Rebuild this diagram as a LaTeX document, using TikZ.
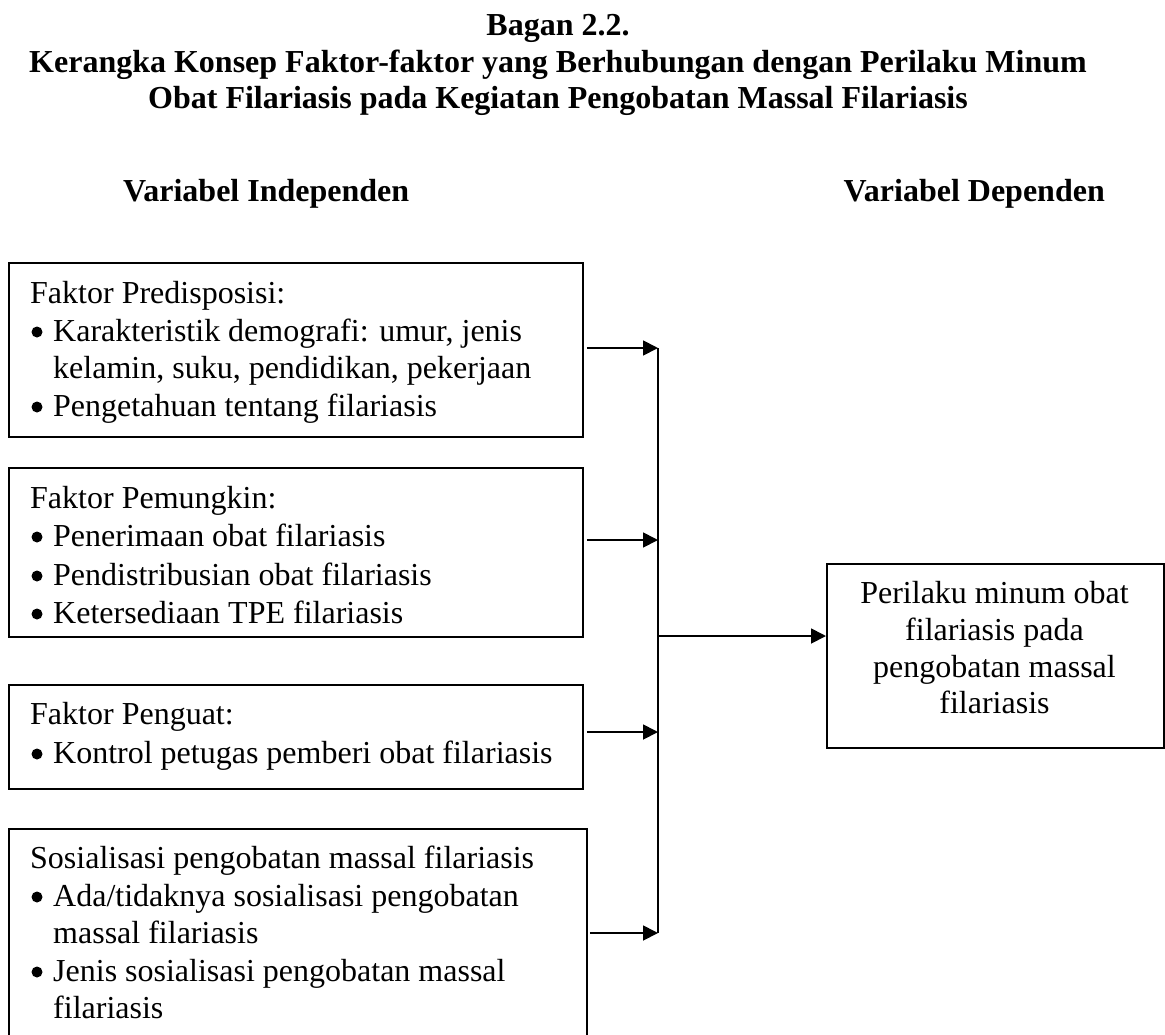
\documentclass[tikz,border=0pt]{standalone}
\usepackage{fontspec}
\setmainfont{Liberation Serif}
\usetikzlibrary{arrows.meta,calc}
\newcommand{\bul}{\hspace*{21pt}}
\begin{document}
\begin{tikzpicture}[x=1pt,y=-1pt,
  box/.style={draw,line width=1.8pt,inner sep=0pt,anchor=north west,rectangle},
  txt/.style={inner sep=0pt,anchor=base west,font=\fontsize{32}{37}\selectfont},
  ctxt/.style={inner sep=0pt,anchor=base,font=\fontsize{32}{37}\selectfont},
  ttl/.style={inner sep=0pt,anchor=base,font=\fontsize{32}{37}\selectfont\bfseries},
  arr/.style={line width=1.8pt,-{Triangle[length=15pt,width=15pt]}},
  ln/.style={line width=1.8pt},
  dot/.style={fill=black}]
\clip (0,0) rectangle (1165,1034);
\fill[white] (0,0) rectangle (1165,1034);

% titles
\node[ttl] (h1) at (558,35) {Bagan 2.2.};
\node[ttl] (h2) at (558,72) {Kerangka Konsep Faktor-faktor yang Berhubungan dengan Perilaku Minum};
\node[ttl] (h3) at (558,108) {Obat Filariasis pada Kegiatan Pengobatan Massal Filariasis};
\node[ttl,anchor=base west] (vi) at (123,201) {Variabel Independen};
\node[ttl,anchor=base east] (vd) at (1105,201) {Variabel Dependen};

% boxes
\node[box,minimum width=574pt,minimum height=174pt] (b1) at (8,262) {};
\node[box,minimum width=574pt,minimum height=169pt] (b2) at (8,467) {};
\node[box,minimum width=574pt,minimum height=104pt] (b3) at (8,684) {};
\node[box,minimum width=578pt,minimum height=232pt] (b4) at (8,828) {};
\node[box,minimum width=337pt,minimum height=184pt] (bd) at (826,563) {};

% box 1 text
\node[txt] (t1a) at (30,303) {Faktor Predisposisi:};
\node[txt] (t1b) at (32,341) {\bul Karakteristik demografi: umur, jenis};
\node[txt] (t1c) at (53,378) {kelamin, suku, pendidikan, pekerjaan};
\node[txt] (t1d) at (32,416) {\bul Pengetahuan tentang filariasis};

% box 2 text
\node[txt] (t2a) at (30,508) {Faktor Pemungkin:};
\node[txt] (t2b) at (32,546) {\bul Penerimaan obat filariasis};
\node[txt] (t2c) at (32,585) {\bul Pendistribusian obat filariasis};
\node[txt] (t2d) at (32,623) {\bul Ketersediaan TPE filariasis};

% box 3 text
\node[txt] (t3a) at (30,724) {Faktor Penguat:};
\node[txt] (t3b) at (32,763) {\bul Kontrol petugas pemberi obat filariasis};

% box 4 text
\node[txt] (t4a) at (30,868) {Sosialisasi pengobatan massal filariasis};
\node[txt] (t4b) at (32,906) {\bul Ada/tidaknya sosialisasi pengobatan};
\node[txt] (t4c) at (53,943) {massal filariasis};
\node[txt] (t4d) at (32,981) {\bul Jenis sosialisasi pengobatan massal};
\node[txt] (t4e) at (53,1018) {filariasis};

% bullets
\foreach \yy in {341,416,546,585,623,763,906,981}
  \fill[dot] (37,\yy-9) circle (5.5);

% dependent box text
\node[ctxt] (tda) at (994.5,603) {Perilaku minum obat};
\node[ctxt] (tdb) at (994.5,640) {filariasis pada};
\node[ctxt] (tdc) at (994.5,677) {pengobatan massal};
\node[ctxt] (tdd) at (994.5,713) {filariasis};

% connectors
\coordinate (j1) at (658,348);
\coordinate (j2) at (658,540);
\coordinate (j3) at (658,732);
\coordinate (j4) at (658,933);
\coordinate (jm) at (658,636);
\draw[ln] (j1) -- (j4);
\draw[arr] ($(b1.east |- j1)+(3,0)$) -- (j1);
\draw[arr] ($(b2.east |- j2)+(3,0)$) -- (j2);
\draw[arr] ($(b3.east |- j3)+(3,0)$) -- (j3);
\draw[arr] ($(b4.east |- j4)+(2,0)$) -- (j4);
\draw[arr] (jm) -- (bd.west |- jm);
\end{tikzpicture}
\end{document}
